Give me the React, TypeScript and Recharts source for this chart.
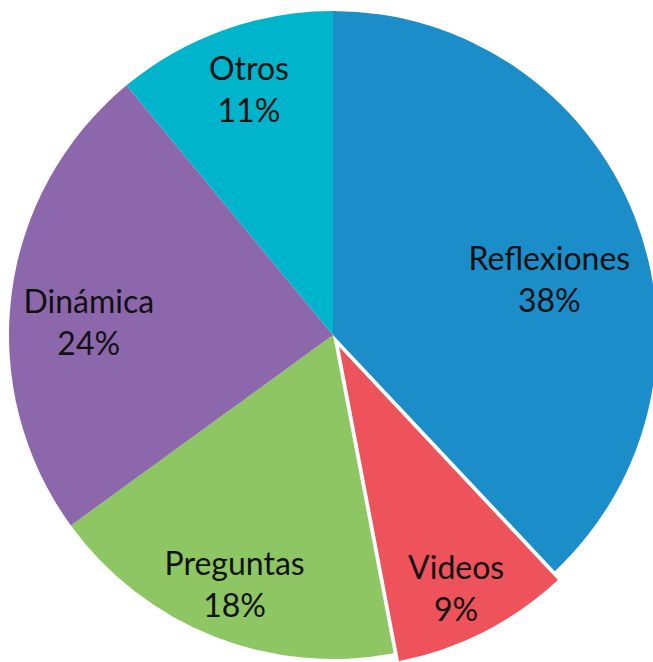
import { PieChart, Pie, Cell } from 'recharts';

const categories = ['Reflexiones', 'Videos', 'Preguntas', 'Dinámica', 'Otros'];
const percentages = [38, 9, 18, 24, 11];
const percentLabels = ['38%', '9%', '18%', '24%', '11%'];

const COLORS = ['#1B8DC9', '#EE525A', '#8DC663', '#8D67AC', '#00B4CB'];
const EXPLODED = 1;
const EXPLODE_PX = 10;

// per-label radius fraction and angle nudge (deg, clockwise from top), tuned by eye
const LABEL_POS = [
  { f: 0.69, da: 7 },
  { f: 0.835, da: 1 },
  { f: 0.825, da: 0 },
  { f: 0.755, da: -4 },
  { f: 0.805, da: 1 },
];

const CX = 333;
const CY = 335;
const R = 324;
const RAD = Math.PI / 180;

const data = categories.map((name, i) => ({ name, value: percentages[i], label: percentLabels[i] }));
const total = percentages.reduce((a, b) => a + b, 0);

// clockwise angle from 12 o'clock of a slice's middle
const midClock = (i: number) => {
  const before = percentages.slice(0, i).reduce((a, b) => a + b, 0);
  return ((before + percentages[i] / 2) / total) * 360;
};

const exAngle = midClock(EXPLODED);
const exCx = CX + EXPLODE_PX * Math.sin(exAngle * RAD);
const exCy = CY - EXPLODE_PX * Math.cos(exAngle * RAD);

const renderLabel = (props: any) => {
  const { index } = props;
  const d = data[index];
  const pos = LABEL_POS[index];
  const a = (midClock(index) + pos.da) * RAD;
  const ox = index === EXPLODED ? exCx : CX;
  const oy = index === EXPLODED ? exCy : CY;
  const x = ox + R * pos.f * Math.sin(a);
  const y = oy - R * pos.f * Math.cos(a);
  return (
    <text
      key={`lbl-${index}`}
      x={x}
      y={y}
      textAnchor="middle"
      fill="#111"
      style={{ fontFamily: 'Lato, sans-serif', fontSize: 32 }}
    >
      <tspan x={x} dy={-21} dominantBaseline="central">{d.name}</tspan>
      <tspan x={x} dy={42} dominantBaseline="central">{d.label}</tspan>
    </text>
  );
};

export default function App() {
  return (
    <div style={{ position: 'absolute', left: 0, top: 0, background: '#fff' }}>
      <PieChart width={653} height={662} margin={{ top: 0, right: 0, bottom: 0, left: 0 }}>
        <Pie
          data={data}
          dataKey="value"
          cx={CX}
          cy={CY}
          outerRadius={R}
          startAngle={90}
          endAngle={-270}
          stroke="none"
          isAnimationActive={false}
          labelLine={false}
        >
          {data.map((d, i) => (
            <Cell key={d.name} fill={i === EXPLODED ? 'none' : COLORS[i]} stroke="none" />
          ))}
        </Pie>
        <Pie
          data={data}
          dataKey="value"
          cx={exCx}
          cy={exCy}
          outerRadius={R}
          startAngle={90}
          endAngle={-270}
          isAnimationActive={false}
          labelLine={false}
          label={renderLabel}
        >
          {data.map((d, i) => (
            <Cell
              key={d.name}
              fill={i === EXPLODED ? COLORS[i] : 'none'}
              stroke={i === EXPLODED ? '#fff' : 'none'}
              strokeWidth={2}
            />
          ))}
        </Pie>
      </PieChart>
    </div>
  );
}
